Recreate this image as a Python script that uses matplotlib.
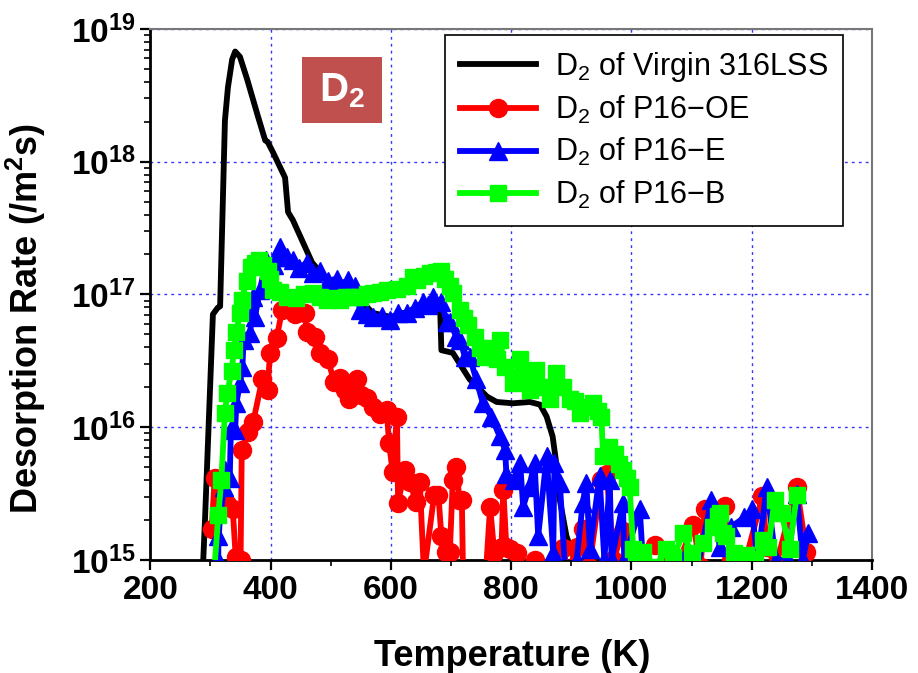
import numpy as np
import matplotlib
matplotlib.use('Agg')
import matplotlib.pyplot as plt
from matplotlib.ticker import LogLocator, FuncFormatter, MultipleLocator, NullFormatter
from matplotlib.patches import Rectangle

plt.rcParams['font.family'] = ['Liberation Sans', 'DejaVu Sans']
plt.rcParams['mathtext.fontset'] = 'custom'
plt.rcParams['mathtext.rm'] = 'Liberation Sans'
plt.rcParams['mathtext.it'] = 'Liberation Sans:italic'
plt.rcParams['mathtext.bf'] = 'Liberation Sans:bold'

# data: temperature (K) and log10 of desorption rate (/m^2 s)
temp_virgin = [287, 291, 304, 312, 316, 324, 329, 336, 341, 349, 361, 379, 391, 395, 404,
               424, 429, 437, 469, 499, 540, 570, 600, 650, 682, 684, 703, 731, 760, 776, 803,
               831, 848, 859, 869, 875, 881, 892, 903, 910]
log_virgin = [14.9, 15.32, 16.85, 16.9, 16.91, 18.31, 18.56, 18.77, 18.83, 18.79, 18.62, 18.34,
              18.16, 18.15, 18.07, 17.88, 17.62, 17.56, 17.24, 17.08, 17.0, 16.86, 16.83, 16.9,
              16.88, 16.58, 16.56, 16.36, 16.23, 16.19, 16.18, 16.19, 16.17, 16.08, 15.93, 15.73,
              15.45, 15.18, 15.04, 14.9]

temp_oe = [302, 307, 318, 327, 337, 342, 350, 352, 362, 371, 386, 395, 399, 410, 419, 429, 440,
           457, 460, 474, 482, 495, 506, 515, 524, 530, 543, 550, 560, 570, 582, 593, 597, 603,
           610, 612, 623, 632, 641, 648, 655, 672, 679, 684, 692, 698, 703, 709, 714, 718, 720,
           758, 765, 772, 784, 787, 792, 798, 809, 820, 839, 855, 886, 895, 909, 919, 930, 950,
           959, 970, 986, 995, 1039, 1060, 1080, 1103, 1115, 1122, 1140, 1155, 1165, 1190, 1218,
           1225, 1240, 1275, 1291]
log_oe = [15.23, 15.62, 15.45, 15.42, 15.38, 15.02, 15.0, 15.83, 15.96, 16.04, 16.36, 16.28,
          16.56, 16.67, 16.88, 16.9, 16.85, 16.86, 16.72, 16.68, 16.56, 16.51, 16.34, 16.37,
          16.28, 16.21, 16.36, 16.24, 16.22, 16.15, 16.1, 16.13, 15.88, 15.66, 16.08, 15.43,
          15.68, 15.59, 15.44, 15.59, 14.9, 15.49, 15.49, 15.18, 15.06, 15.06, 15.6, 15.7, 15.45,
          15.45, 14.9, 14.9, 15.4, 15.05, 15.1, 15.53, 15.1, 15.08, 15.05, 14.9, 15.0, 14.9,
          15.09, 14.9, 15.1, 15.23, 14.95, 15.6, 15.65, 15.0, 15.22, 14.95, 15.11, 15.0, 15.0,
          15.26, 14.95, 15.38, 15.35, 15.41, 15.0, 15.0, 15.48, 15.1, 14.95, 15.55, 15.06]

temp_e = [313, 313, 322, 324, 332, 334, 341, 343, 349, 353, 355, 366, 371, 374, 382, 393, 405,
          410, 416, 420, 428, 437, 448, 460, 470, 482, 495, 510, 520, 528, 540, 549, 560, 570,
          585, 598, 612, 626, 640, 653, 662, 670, 684, 693, 698, 709, 715, 723, 731, 742, 753,
          767, 781, 790, 792, 805, 815, 820, 830, 839, 845, 859, 870, 872, 881, 890, 909, 919,
          925, 931, 947, 955, 964, 967, 986, 988, 1014, 1019, 1060, 1092, 1110, 1133, 1147, 1166,
          1188, 1200, 1210, 1225, 1240, 1260, 1275, 1285, 1294]
log_e = [15.0, 15.18, 15.55, 15.68, 15.62, 15.99, 15.98, 16.18, 16.33, 16.45, 16.66, 16.71,
         16.98, 16.83, 17.03, 17.26, 17.22, 17.28, 17.36, 17.3, 17.28, 17.26, 17.2, 17.24, 17.16,
         17.18, 17.1, 17.12, 17.05, 17.11, 17.06, 16.88, 16.85, 16.83, 16.84, 16.81, 16.86, 16.86,
         16.9, 16.94, 16.92, 16.98, 16.94, 16.79, 16.79, 16.68, 16.66, 16.53, 16.53, 16.36, 16.18,
         16.08, 15.93, 15.83, 15.65, 15.6, 15.73, 15.4, 15.55, 15.73, 15.18, 15.78, 15.05, 15.73,
         15.58, 14.9, 15.0, 15.43, 15.58, 15.08, 15.63, 15.0, 15.6, 15.0, 15.43, 15.0, 15.38,
         15.0, 14.95, 15.05, 14.95, 15.45, 15.1, 15.25, 15.32, 15.38, 15.0, 15.55, 15.0, 15.0,
         15.5, 15.0, 15.2]

temp_b = [306, 313, 318, 324, 328, 335, 339, 343, 349, 352, 360, 368, 374, 381, 388, 395, 399,
          404, 415, 427, 443, 456, 470, 482, 493, 505, 515, 526, 537, 549, 560, 570, 582, 593,
          610, 626, 637, 643, 655, 665, 675, 684, 690, 698, 703, 715, 722, 728, 740, 748, 756,
          766, 776, 781, 790, 803, 815, 822, 831, 842, 853, 864, 875, 886, 898, 906, 914, 925,
          936, 945, 950, 953, 962, 972, 980, 986, 992, 997, 1003, 1008, 1019, 1040, 1058, 1070,
          1086, 1100, 1119, 1136, 1144, 1147, 1152, 1158, 1170, 1191, 1205, 1219, 1228, 1238,
          1250, 1263, 1275]
log_b = [14.9, 15.34, 15.6, 16.11, 16.26, 16.42, 16.58, 16.72, 16.86, 16.96, 17.1, 17.21,
         17.24, 17.26, 17.22, 17.18, 17.12, 17.03, 17.02, 16.98, 16.97, 17.0, 17.01, 16.98,
         16.96, 16.97, 16.96, 16.98, 16.98, 16.98, 17.0, 17.01, 17.02, 17.03, 17.04, 17.06,
         17.13, 17.11, 17.14, 17.16, 17.17, 17.18, 17.12, 17.06, 17.01, 16.88, 16.82, 16.77,
         16.68, 16.6, 16.53, 16.6, 16.51, 16.66, 16.45, 16.33, 16.51, 16.4, 16.28, 16.43, 16.3,
         16.21, 16.41, 16.3, 16.21, 16.2, 16.11, 16.15, 16.18, 16.12, 16.08, 15.78, 15.85, 15.8,
         15.72, 15.68, 15.62, 15.55, 15.08, 15.02, 15.06, 14.95, 15.08, 15.02, 15.2, 15.05,
         15.13, 15.25, 15.33, 15.35, 15.2, 15.18, 15.05, 15.04, 15.0, 15.15, 15.1, 15.45, 15.35,
         15.08, 15.49]

fig = plt.figure(figsize=(9.18, 6.73), dpi=100)
ax = fig.add_axes([0.1638, 0.168, 0.786, 0.789])

ax.plot(temp_virgin, 10.0 ** np.array(log_virgin), color='black', lw=4.2,
        label=r'D$_2$ of Virgin 316LSS', zorder=3)
ax.plot(temp_oe, 10.0 ** np.array(log_oe), color='red', lw=4.2, marker='o', ms=13,
        label=r'D$_2$ of P16$-$OE', zorder=4)
ax.plot(temp_e, 10.0 ** np.array(log_e), color='blue', lw=4.2, marker='^', ms=13,
        label=r'D$_2$ of P16$-$E', zorder=5)
ax.plot(temp_b, 10.0 ** np.array(log_b), color='#00ff00', lw=4.2, marker='s', ms=11,
        label=r'D$_2$ of P16$-$B', zorder=6)

ax.set_yscale('log')
ax.set_xlim(200, 1400)
ax.set_ylim(1e15, 1e19)

ax.xaxis.set_major_locator(MultipleLocator(200))
ax.xaxis.set_minor_locator(MultipleLocator(100))
ax.yaxis.set_major_locator(LogLocator(base=10, numticks=10))
ax.yaxis.set_minor_locator(LogLocator(base=10, subs=np.arange(2, 10), numticks=10))
ax.yaxis.set_minor_formatter(NullFormatter())
ax.yaxis.set_major_formatter(FuncFormatter(lambda v, p: r'$\mathbf{10^{%d}}$' % round(np.log10(v))))

ax.tick_params(axis='both', which='major', direction='out', length=7, width=1.6, labelsize=24)
ax.tick_params(axis='both', which='minor', direction='out', length=4, width=1.2)
for lab in ax.get_xticklabels():
    lab.set_fontweight('bold')

ax.grid(True, which='major', color='#3333ff', linestyle=(0, (2, 3)), lw=1.0)
ax.set_axisbelow(True)

ax.spines['left'].set_linewidth(2)
ax.spines['bottom'].set_linewidth(2)
for s in ['top', 'right']:
    ax.spines[s].set_color('#777777')
    ax.spines[s].set_linewidth(1.5)

ax.set_xlabel('Temperature (K)', fontsize=26, fontweight='bold')
ax.set_ylabel(r'Desorption Rate (/m$^\mathbf{2}$s)', fontsize=26, fontweight='bold')
ax.xaxis.set_label_coords(0.501, -0.148)
ax.yaxis.set_label_coords(-0.142, 0.454)

leg = ax.legend(loc='upper right', bbox_to_anchor=(0.960, 0.989), borderaxespad=0,
                fontsize=22, frameon=True, fancybox=False, handlelength=2.5,
                handletextpad=0.6, borderpad=0.5, labelspacing=0.33)
leg.get_frame().set_edgecolor('black')
leg.get_frame().set_linewidth(1.2)
leg.get_frame().set_alpha(1)

ax.add_patch(Rectangle((0.21, 0.823), 0.111, 0.124, transform=ax.transAxes,
                       facecolor='#c0504d', edgecolor='none', zorder=7))
ax.text(0.2655, 0.883, r'$\mathbf{D_2}$', transform=ax.transAxes, color='white',
        fontsize=29, ha='center', va='center', zorder=8)

fig.savefig('out.png', dpi=100)
